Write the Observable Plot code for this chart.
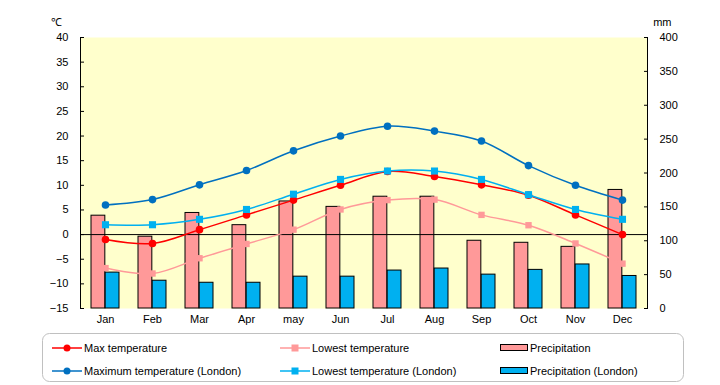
<!DOCTYPE html>
<html>
<head>
<meta charset="utf-8">
<script src="https://cdn.jsdelivr.net/npm/d3@7"></script>
<script src="https://cdn.jsdelivr.net/npm/@observablehq/plot@0.6"></script>
<style>
  html, body { margin: 0; padding: 0; background: #fff; }
  #wrap { position: relative; width: 720px; height: 385px; font-family: "Liberation Sans", Arial, sans-serif; }
  #legend { position: absolute; left: 0; top: 330px; }
</style>
</head>
<body>
<div id="wrap"><div id="chart"></div><div id="legend"></div></div>
<script>
const months = ["Jan","Feb","Mar","Apr","may","Jun","Jul","Aug","Sep","Oct","Nov","Dec"];
const maxTemp = [-1, -1.8, 1, 4, 7, 10, 12.8, 11.8, 10.1, 8, 4, 0];
const lowTemp = [-6.8, -7.9, -4.8, -1.9, 1, 5.1, 7, 7.1, 4, 1.9, -1.8, -5.9];
const precip = [137, 106, 141, 123, 158, 150, 165, 165, 100, 97, 91, 175];
const londonMax = [6, 7.1, 10.1, 13, 17, 20, 22, 21, 19, 14, 10, 7];
const londonLow = [2, 2, 3.1, 5.1, 8.2, 11.2, 12.9, 12.9, 11.2, 8.1, 5.1, 3.1];
const londonPrecip = [53, 41, 38, 38, 47, 47, 56, 59, 50, 57, 65, 48];
const tempTicks = [-15, -10, -5, 0, 5, 10, 15, 20, 25, 30, 35, 40];
const mmTicks = [0, 50, 100, 150, 200, 250, 300, 350, 400];

const legendItems = [
  {label: "Max temperature", kind: "line", color: "#FF0000", symbol: "circle"},
  {label: "Lowest temperature", kind: "line", color: "#FF9999", symbol: "square"},
  {label: "Precipitation", kind: "bar", color: "#FF9999"},
  {label: "Maximum temperature (London)", kind: "line", color: "#0070C0", symbol: "circle"},
  {label: "Lowest temperature (London)", kind: "line", color: "#00B0F0", symbol: "square"},
  {label: "Precipitation (London)", kind: "bar", color: "#00B0F0"}
];

// map precipitation (0..400 mm) onto the temperature scale (-15..40 °C)
const toT = m => -15 + m * 55 / 400;
const toMM = t => Math.round((t + 15) * 400 / 55);

const rows = months.map((m, i) => ({
  month: m, maxTemp: maxTemp[i], lowTemp: lowTemp[i], precip: precip[i],
  londonMax: londonMax[i], londonLow: londonLow[i], londonPrecip: londonPrecip[i]
}));

const step = (647 - 80) / 12;
const half = step * 0.6 / 2;

const lineSeries = [
  {key: "lowTemp", color: "#FF9999", symbol: "square", r: 3.6},
  {key: "maxTemp", color: "#FF0000", symbol: "circle", r: 3.8},
  {key: "londonLow", color: "#00B0F0", symbol: "square", r: 4.0},
  {key: "londonMax", color: "#0070C0", symbol: "circle", r: 3.8}
];

const marks = [
  Plot.frame({fill: "#FFFFCC", stroke: null}),
  Plot.barY(rows, {x: "month", y1: -15, y2: d => toT(d.precip), fill: "#FF9999", stroke: "black", strokeWidth: 1, insetRight: half}),
  Plot.barY(rows, {x: "month", y1: -15, y2: d => toT(d.londonPrecip), fill: "#00B0F0", stroke: "black", strokeWidth: 1, insetLeft: half}),
  Plot.ruleY([0], {stroke: "black", strokeWidth: 1}),
  Plot.frame({anchor: "left", stroke: "black"}),
  Plot.frame({anchor: "right", stroke: "black"})
];
for (const s of lineSeries) {
  marks.push(Plot.line(rows, {x: "month", y: s.key, stroke: s.color, strokeWidth: 1.5, curve: "catmull-rom"}));
  marks.push(Plot.dot(rows, {x: "month", y: s.key, fill: s.color, stroke: null, symbol: s.symbol, r: s.r}));
}
marks.push(
  Plot.axisY(tempTicks, {anchor: "left", tickSize: -4, tickPadding: 16, stroke: "black", fontSize: 11, label: null}),
  Plot.axisY(mmTicks.map(toT), {anchor: "right", tickSize: -4, tickPadding: 16, stroke: "black", tickFormat: toMM, fontSize: 11, label: null}),
  Plot.axisX({tickSize: 0, tickPadding: 7, fontSize: 11, label: null}),
  Plot.text(["℃"], {frameAnchor: "top-left", dx: -30, dy: -19, fontSize: 11, fill: "black"}),
  Plot.text(["mm"], {frameAnchor: "top-right", dx: 24, dy: -19, fontSize: 11, fill: "black"})
);

const chart = Plot.plot({
  width: 720,
  height: 330,
  marginTop: 37,
  marginBottom: 22,
  marginLeft: 80,
  marginRight: 73,
  style: {fontFamily: "Liberation Sans, Arial, sans-serif", fontSize: "11px", color: "black", background: "white"},
  x: {domain: months, paddingInner: 0.4, paddingOuter: 0.2, axis: null},
  y: {domain: [-15, 40], nice: false, axis: null},
  marks
});
document.getElementById("chart").appendChild(chart);

// legend
const lg = d3.select("#legend").append("svg").attr("width", 720).attr("height", 55)
  .style("font-family", "Liberation Sans, Arial, sans-serif").style("font-size", "11px");
lg.append("rect").attr("x", 42.5).attr("y", 3.5).attr("width", 641).attr("height", 48)
  .attr("rx", 7).attr("fill", "white").attr("stroke", "#C0C0C0").attr("stroke-width", 1);
const colX = [52, 280, 500];
const rowY = [18, 41];
legendItems.forEach((it, i) => {
  const x = colX[i % 3], y = rowY[Math.floor(i / 3)];
  const g = lg.append("g").attr("transform", `translate(${x},${y})`);
  if (it.kind === "line") {
    g.append("line").attr("x1", 0).attr("x2", 30).attr("y1", 0).attr("y2", 0).attr("stroke", it.color).attr("stroke-width", 1.5);
    if (it.symbol === "circle") g.append("circle").attr("cx", 15).attr("cy", 0).attr("r", 3.5).attr("fill", it.color);
    else g.append("rect").attr("x", 11.5).attr("y", -3.5).attr("width", 7).attr("height", 7).attr("fill", it.color);
    g.append("text").attr("x", 32).attr("y", 0).attr("dy", "0.35em").text(it.label);
  } else {
    g.append("rect").attr("x", 0.5).attr("y", -3.5).attr("width", 27).attr("height", 6).attr("fill", it.color).attr("stroke", "black").attr("stroke-width", 1);
    g.append("text").attr("x", 30).attr("y", 0).attr("dy", "0.35em").text(it.label);
  }
});
</script>
</body>
</html>
